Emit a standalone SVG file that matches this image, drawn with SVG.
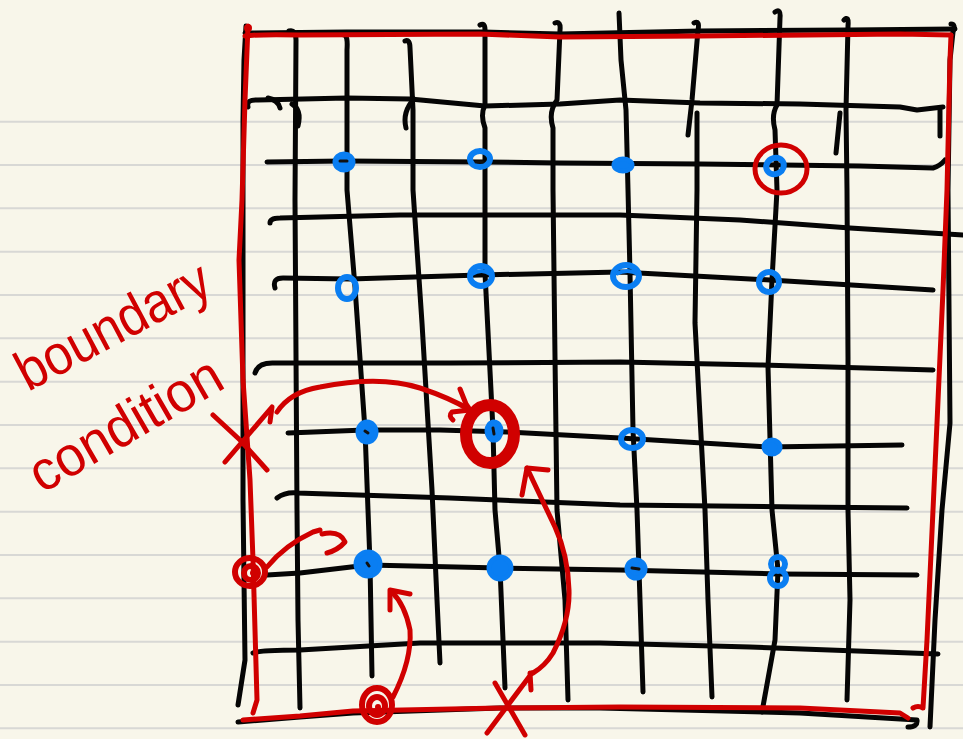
<svg xmlns="http://www.w3.org/2000/svg" width="963" height="739" viewBox="0 0 963 739">
<style>
.rule{stroke:#d8d8d5;stroke-width:2;fill:none}
.k{stroke:#050505;stroke-width:5;fill:none;stroke-linecap:round;stroke-linejoin:round}
.r{stroke:#d00000;stroke-width:5;fill:none;stroke-linecap:round;stroke-linejoin:round}
.bf{fill:#0a7ef2;stroke:#0a7ef2;stroke-width:5}
.bl{fill:none;stroke:#0a7ef2;stroke-width:6}
.mk{stroke:#111;stroke-width:3;stroke-linecap:round}
.lbl{font-family:"Liberation Sans",Arial,sans-serif;font-size:56px;fill:#d00000}
</style>
<rect width="963" height="739" fill="#f8f6ea"/>
<g id="ruled">
<path class="rule" d="M0,121.7H963M0,165H963M0,208.3H963M0,251.7H963M0,295H963M0,338.3H963M0,381.7H963M0,425H963M0,468.3H963M0,511.7H963M0,555H963M0,598.3H963M0,641.7H963M0,685H963M0,728.3H963"/>
</g>
<g id="grid">
<path class="k" d="M246,26 L244,60 L243,120 L243,300 L243,500 L245,660 L238,705"/>
<path class="k" d="M289,31 Q296,29 296,40 L295,200 L297,510 L298,620 L300,708"/>
<path class="k" d="M292,104 Q302,110 298,126"/>
<path class="k" d="M344,35 Q348,35 347,50 L347,190 L355,287 L365,430 L368,510 L370,563 L372,676"/>
<path class="k" d="M405,41 Q410,39 410,48 L413,110 L413,190 L422,323 L432,490 L437,600 L440,663"/>
<path class="k" d="M414,99 Q402,112 406,128"/>
<path class="k" d="M480,25 Q485,22 485,30 L485,105 Q480,115 485,128 L485,190 L485,273 L493,430 L495,510 L500,568 L505,688"/>
<path class="k" d="M555,23 Q561,21 560,30 L557,100 Q548,112 553,128 L553,190 L555,357 L557,510 L565,600 L568,700"/>
<path class="k" d="M619,13 L621,60 L626,110 L628,190 L630,273 L633,430 L637,510 L640,600 L643,692"/>
<path class="k" d="M694,23 Q700,20 698,30 L692,100 L688,135"/>
<path class="k" d="M697,113 L697,190 L695,323 L705,510 L708,600 L712,697"/>
<path class="k" d="M775,12 Q781,8 780,18 L777,105 Q771,115 775,130 L777,190 L772,280 L768,367 L772,510 L778,570 L775,640 L762,712"/>
<path class="k" d="M844,20 Q849,15 848,26 L846,110 L847,190 L848,357 L848,510 L850,600 L847,700"/>
<path class="k" d="M840,113 L836,153"/>
<path class="k" d="M951,24 Q956,24 953,32 L950,60 L948,190 L950,423 L942,510 L935,620 L930,727"/>
<path class="k" d="M940,110 L940,136"/>
<path class="k" d="M245,33 L347,32 L483,32 L560,34 L700,31 L850,30 L955,29"/>
<path class="k" d="M248,107 Q246,99 258,100 L347,98 L410,99 L485,106 L560,104 L620,100 L700,103 L800,104 L900,107 L917,110 L943,107"/>
<path class="k" d="M268,98 Q278,100 280,108"/>
<path class="k" d="M267,162 L344,161 L483,162 L560,163 L700,164 L860,166 L933,168 Q940,166 945,160"/>
<path class="k" d="M270,223 Q270,218 280,218 L400,215 L620,215 L740,220 L850,228 L963,235"/>
<path class="k" d="M275,288 Q272,278 283,278 L350,279 L480,275 L620,272 L770,280 L933,290"/>
<path class="k" d="M255,373 Q258,362 275,363 L450,363 L620,362 L760,365 L933,370"/>
<path class="k" d="M288,433 L365,430 L440,430 L507,432 L620,438 L767,447 L902,445"/>
<path class="k" d="M277,498 Q285,492 297,493 L450,498 L620,505 L800,507 L907,508"/>
<path class="k" d="M267,575 L300,573 L368,565 L500,568 L620,570 L780,574 L917,575"/>
<path class="k" d="M253,653 Q260,650 300,650 L420,643 L600,643 L750,647 L938,654"/>
<path class="k" d="M238,722 L300,717 L353,713 L500,708 L600,708 L800,713 L917,720 Q918,727 908,727"/>
</g>
<g id="boundary">
<path class="r" d="M245,36 Q260,34 300,35 L480,34 L560,37 L700,36 L900,34 L951,35"/>
<path class="r" d="M248,26 L245,100 L242,200 L239,260 L243,380 L250,480 L253,560 L257,700 L253,713"/>
<path class="r" d="M951,35 L950,60 L947,190 L943,290 L937,423 L933,510 L927,640 L923,708 Q918,705 913,708"/>
<path class="r" d="M243,720 L300,716 L353,711 L500,708 L620,707 L800,708 L900,713 L908,718"/>
<circle cx="248" cy="28" r="4" fill="#d00000"/>
</g>
<g id="points">
<g id="p11"><ellipse class="bf" cx="344" cy="162" rx="9" ry="8"/><path class="mk" d="M340,161 L347,161"/></g>
<g id="p12"><ellipse class="bl" cx="480" cy="159" rx="10" ry="8"/><path class="mk" d="M476,162 L483,162"/></g>
<g id="p13"><ellipse class="bf" cx="623" cy="165" rx="9" ry="6"/></g>
<g id="p14"><ellipse class="bl" cx="775" cy="166" rx="9" ry="8" transform="rotate(-30 775 166)"/></g>
<g id="p21"><ellipse class="bl" cx="347" cy="288" rx="9" ry="11"/></g>
<g id="p22"><ellipse class="bl" cx="481" cy="276" rx="11" ry="10"/><path class="bl" d="M472,274 Q482,268 490,274" style="stroke-width:4"/></g>
<g id="p23"><ellipse class="bl" cx="626" cy="276" rx="13" ry="11"/><path class="bl" d="M616,274 Q628,268 638,274" style="stroke-width:4"/></g>
<g id="p24"><ellipse class="bl" cx="769" cy="282" rx="10" ry="10"/></g>
<g id="p31"><ellipse class="bf" cx="367" cy="432" rx="9" ry="10"/><path class="mk" d="M365,431 L368,433"/></g>
<g id="p32"><ellipse class="bf" cx="494" cy="431" rx="7" ry="9"/><path class="mk" d="M493,428 L494,434"/></g>
<g id="p33"><ellipse class="bl" cx="632" cy="439" rx="11" ry="9"/></g>
<g id="p34"><ellipse class="bf" cx="772" cy="447" rx="8" ry="7"/></g>
<g id="p41"><circle class="bf" cx="368" cy="564" r="12"/><path class="mk" d="M367,563 L369,566"/></g>
<g id="p42"><circle class="bf" cx="500" cy="568" r="11"/></g>
<g id="p43"><circle class="bf" cx="636" cy="569" r="9"/><path class="mk" d="M632,568 L639,569"/></g>
<g id="p44"><circle class="bl" cx="778" cy="564" r="7"/><circle class="bl" cx="778" cy="578" r="8"/></g>
</g>
<g id="marks">
<ellipse class="r" cx="781" cy="169" rx="26" ry="24"/>
<ellipse cx="490" cy="434" rx="24" ry="29" fill="none" stroke="#d00000" stroke-width="12"/>
<g id="node-left"><ellipse class="r" cx="250" cy="572" rx="15" ry="14" style="stroke-width:6"/><circle class="r" cx="251" cy="573" r="7" style="stroke-width:6"/><circle cx="253" cy="573" r="3" fill="#d00000"/></g>
<g id="node-bottom"><ellipse class="r" cx="377" cy="705" rx="15" ry="17" style="stroke-width:6"/><ellipse class="r" cx="377" cy="706" rx="8" ry="9" style="stroke-width:6"/><circle cx="378" cy="707" r="3" fill="#d00000"/></g>
<path class="r" d="M213,415 L240,440 L267,470 M225,462 L272,407 L270,422"/>
<path class="r" d="M495,683 L525,735 M487,733 L532,673 M530,673 L531,690"/>
</g>
<g id="connectors">
<path class="r" d="M277,412 Q290,392 320,387 Q380,375 420,388 Q450,398 470,410"/>
<path class="r" d="M460,389 L466,404 L470,410 L452,412 Q448,416 453,420"/>
<path class="r" d="M267,567 Q285,545 313,532 L320,530"/>
<path class="r" d="M322,534 Q340,530 345,542 Q338,550 327,553"/>
<path class="r" d="M393,697 Q412,660 410,630 Q405,605 392,592"/>
<path class="r" d="M390,610 L390,590 L410,594"/>
<path class="r" d="M533,673 Q545,666 553,653 Q570,620 569,590 Q568,555 555,527 L527,468"/>
<path class="r" d="M522,495 L527,468 L548,470"/>
</g>
<g id="labels">
<text class="lbl" x="28" y="392" textLength="212" lengthAdjust="spacingAndGlyphs" transform="rotate(-28 28 392)">boundary</text>
<text class="lbl" x="42" y="494" textLength="214" lengthAdjust="spacingAndGlyphs" transform="rotate(-30 42 494)">condition</text>
</g>
</svg>
